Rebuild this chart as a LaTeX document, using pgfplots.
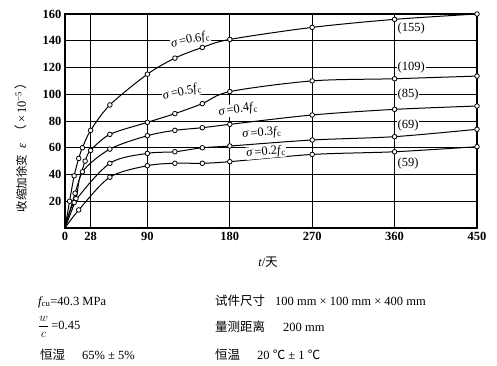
\documentclass[border=0pt]{standalone}
\usepackage{fontspec}
\setmainfont{Liberation Serif}
\newfontfamily\cjk{Noto Sans CJK SC}
\usepackage{pgfplots}
\pgfplotsset{compat=1.18}
\pgfplotstableread{
x y
0 0
5 20
10 39
15 52
19 60
28 73
49 92
90 115
120 127
150 135
180 141
270 150
360 156
450 160
}\sixtab
\pgfplotstableread{
x y
0 0
11 26
22 50
28 58
49 70
90 79
120 85.5
150 93
180 102
270 110
360 111.6
450 113.6
}\fivetab
\pgfplotstableread{
x y
0 0
12 22
19 42
49 59
90 69
120 73
150 75
180 77.5
270 84.5
360 88.7
450 91.2
}\fourtab
\pgfplotstableread{
x y
0 0
10 19
49 48.4
90 55.8
120 57
150 60
180 61.3
270 65.8
360 68.3
450 73.8
}\threetab
\pgfplotstableread{
x y
0 0
15 13.5
49 38
90 46.6
120 48.4
150 48.4
180 49.6
270 55
360 57
450 60.8
}\twotab
\pgfplotsset{curve/.style={black, line width=1pt, smooth, tension=0.5,
     mark=*, mark size=2.3pt, mark options={fill=white, line width=0.8pt}, mark phase=2}}
\begin{document}
\begin{tikzpicture}[font=\fontsize{12.5}{15}\selectfont]
\useasboundingbox (0pt,0pt) rectangle (497pt,365pt);
\begin{axis}[at={(65pt,137pt)}, anchor=south west, scale only axis,
  width=412pt, height=214pt,
  xmin=0, xmax=450, ymin=0, ymax=160,
  xtick={0,28,90,180,270,360,450},
  ytick={0,20,...,160},
  yticklabels={,20,40,60,80,100,120,140,160},
  grid=major, major grid style={black, line width=1pt},
  axis line style={line width=1.2pt},
  tick style={draw=none},
  /pgf/number format/assume math mode=true,
  xticklabel style={font=\fontsize{12.5}{15}\selectfont\bfseries, yshift=-1pt},
  yticklabel style={font=\fontsize{12.5}{15}\selectfont\bfseries},
  clip=false,
]
\addplot[curve] table {\sixtab};
\addplot[curve] table {\fivetab};
\addplot[curve] table {\fourtab};
\addplot[curve] table {\threetab};
\addplot[curve] table {\twotab};
\node[fill=white, inner sep=0.5pt, rotate=12] at (axis cs:137,140.5) {{\itshape σ}\,=0.6{\itshape f}\kern0.5pt\textsubscript{c}};
\node[fill=white, inner sep=0.5pt, rotate=13] at (axis cs:128,101.5) {{\itshape σ}\,=0.5{\itshape f}\kern0.5pt\textsubscript{c}};
\node[fill=white, inner sep=0.5pt, rotate=8] at (axis cs:189,88.5) {{\itshape σ}\,=0.4{\itshape f}\kern0.5pt\textsubscript{c}};
\node[fill=white, inner sep=0.5pt, rotate=5] at (axis cs:215,71) {{\itshape σ}\,=0.3{\itshape f}\kern0.5pt\textsubscript{c}};
\node[fill=white, inner sep=0.5pt, rotate=5] at (axis cs:219.5,56.8) {{\itshape σ}\,=0.2{\itshape f}\kern0.5pt\textsubscript{c}};
\node[fill=white, inner sep=1pt, anchor=west] at (axis cs:362,149.3) {(155)};
\node[fill=white, inner sep=1pt, anchor=west] at (axis cs:362,120) {(109)};
\node[fill=white, inner sep=1pt, anchor=west] at (axis cs:362,100) {(85)};
\node[fill=white, inner sep=1pt, anchor=west] at (axis cs:362,76.3) {(69)};
\node[fill=white, inner sep=1pt, anchor=west] at (axis cs:362,48.6) {(59)};
\end{axis}
\node[rotate=90] at (21pt,220.5pt) {{\cjk\fontsize{11.5}{14}\selectfont 收缩加徐变}\enspace{\itshape ε}\enspace{\cjk （}\,×\,10\textsuperscript{−5}\,{\cjk ）}};
\node at (268pt,103pt) {{\itshape t}/{\cjk 天}};
\node[anchor=base west, inner sep=0pt] at (38pt,60pt) {{\itshape f}\textsubscript{cu}=40.3 MPa};
\node[anchor=west, inner sep=0pt] at (38pt,38pt) {$\displaystyle\frac{w}{c}$\,=0.45};
\node[anchor=base west, inner sep=0pt] at (40pt,6pt) {\cjk 恒湿};
\node[anchor=base west, inner sep=0pt] at (82pt,6pt) {65\% ± 5\%};
\node[anchor=base west, inner sep=0pt] at (215pt,60pt) {\cjk 试件尺寸};
\node[anchor=base west, inner sep=0pt] at (275pt,60pt) {100 mm × 100 mm × 400 mm};
\node[anchor=base west, inner sep=0pt] at (215pt,34pt) {\cjk 量测距离};
\node[anchor=base west, inner sep=0pt] at (283pt,34pt) {200 mm};
\node[anchor=base west, inner sep=0pt] at (215pt,6pt) {\cjk 恒温};
\node[anchor=base west, inner sep=0pt] at (257pt,6pt) {20 {\cjk ℃} ± 1 {\cjk ℃}};
\end{tikzpicture}
\end{document}
